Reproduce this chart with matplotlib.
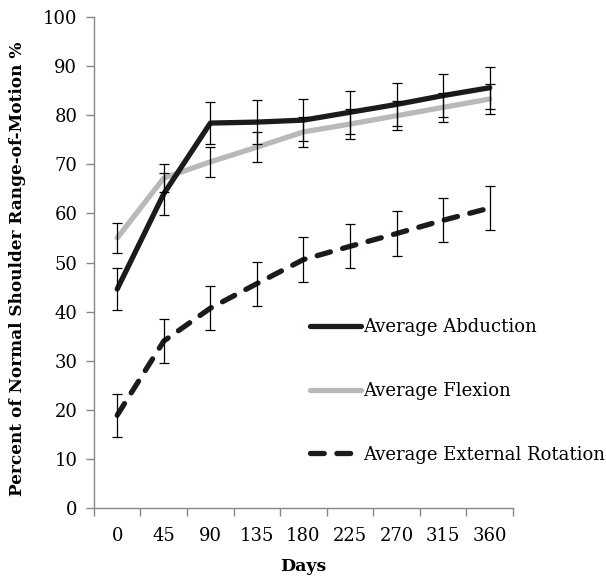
import matplotlib
matplotlib.use("Agg")
import matplotlib.pyplot as plt
from matplotlib.ticker import FixedLocator, NullFormatter
from matplotlib.lines import Line2D

days = ["0", "45", "90", "135", "180", "225", "270", "315", "360"]
abduction = [44.6, 64.0, 78.4, 78.6, 79.0, 80.6, 82.2, 84.0, 85.6]
abduction_err = [4.3, 4.3, 4.3, 4.4, 4.3, 4.4, 4.4, 4.3, 4.3]
flexion = [55.0, 67.2, 70.5, 73.5, 76.6, 78.2, 79.9, 81.6, 83.3]
flexion_err = [3.0, 2.8, 3.0, 3.0, 3.0, 3.0, 3.0, 3.0, 3.0]
ext_rot = [18.9, 34.0, 40.7, 45.7, 50.6, 53.3, 55.9, 58.6, 61.1]
ext_rot_err = [4.4, 4.4, 4.5, 4.5, 4.5, 4.5, 4.5, 4.5, 4.5]

plt.rcParams['font.family'] = ['DejaVu Serif']

fig = plt.figure(figsize=(6.06, 5.79), dpi=100)
ax = fig.add_axes([0.155, 0.1226, 0.6915, 0.848])

x = list(range(len(days)))
ekw = dict(ecolor='black', elinewidth=0.9, capsize=3.5, capthick=0.9, zorder=4)
ax.errorbar(x, abduction, yerr=abduction_err, fmt='none', **ekw)
ax.errorbar(x, flexion, yerr=flexion_err, fmt='none', **ekw)
ax.errorbar(x, ext_rot, yerr=ext_rot_err, fmt='none', **ekw)

ax.plot(x, flexion, color='#b9b9b9', lw=3.8, solid_capstyle='round', solid_joinstyle='round', zorder=3)
ax.plot(x, abduction, color='#1e1a1a', lw=3.8, solid_capstyle='round', solid_joinstyle='round', zorder=3)
ax.plot(x, ext_rot, color='#1e1a1a', lw=3.8, dashes=(2.6, 2.4), dash_capstyle='round', zorder=3)

ax.set_xlim(-0.5, len(days) - 0.5)
ax.set_ylim(0, 100)
ax.set_yticks(range(0, 101, 10))
ax.set_xticks(x)
ax.set_xticklabels(days)
ax.xaxis.set_minor_locator(FixedLocator([i - 0.5 for i in range(len(days) + 1)]))
ax.xaxis.set_minor_formatter(NullFormatter())
ax.tick_params(axis='x', which='major', length=0, pad=14, labelsize=13)
ax.tick_params(axis='x', which='minor', length=6, color='#888888', width=1)
ax.tick_params(axis='y', length=6, color='#888888', width=1, labelsize=13, pad=6)

for s in ['top', 'right']:
    ax.spines[s].set_visible(False)
for s in ['left', 'bottom']:
    ax.spines[s].set_color('#888888')
    ax.spines[s].set_linewidth(1)

ax.set_xlabel('Days', fontsize=12.5, fontweight='bold', labelpad=9)
ax.set_ylabel('Percent of Normal Shoulder Range-of-Motion %', fontsize=12.2, fontweight='bold')
ax.yaxis.set_label_coords(-0.162, 0.488)

handles = [
    Line2D([], [], color='#1e1a1a', lw=3.8, solid_capstyle='round'),
    Line2D([], [], color='#b9b9b9', lw=3.8, solid_capstyle='round'),
    Line2D([], [], color='#1e1a1a', lw=3.8, dashes=(2.6, 2.4), dash_capstyle='round'),
]
labels = ['Average Abduction', 'Average Flexion', 'Average External Rotation']
leg = fig.legend(handles, labels, loc='upper left', bbox_to_anchor=(310 / 606, 1 - 318.5 / 579),
                 frameon=False, fontsize=13, handlelength=2.8, handletextpad=0.15,
                 labelspacing=2.52, borderaxespad=0, borderpad=0)

fig.savefig('out.png', dpi=100)
